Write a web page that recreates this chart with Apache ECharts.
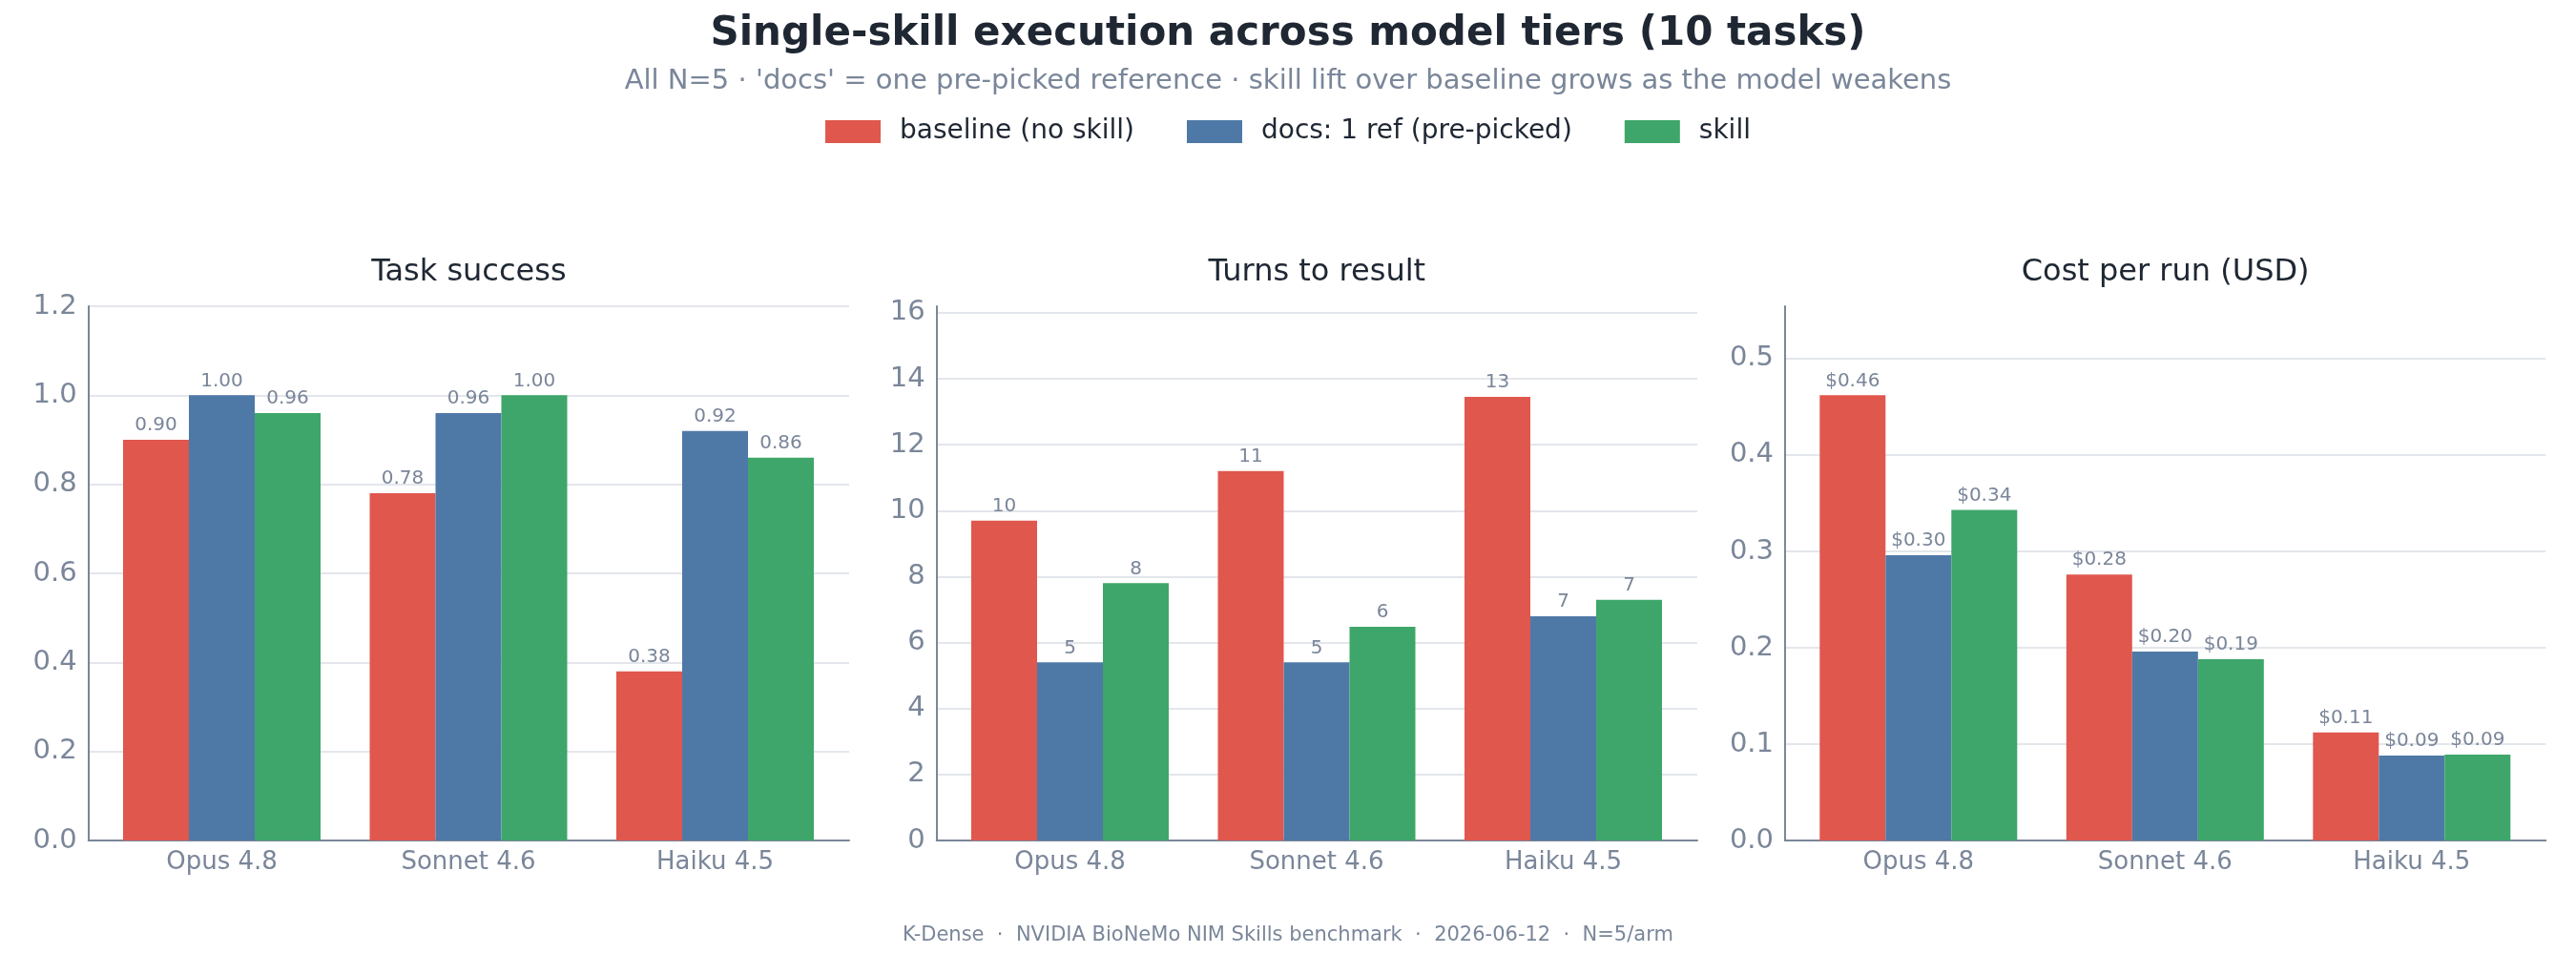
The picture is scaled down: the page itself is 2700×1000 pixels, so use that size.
<!DOCTYPE html>
<html>
<head>
<meta charset="utf-8">
<script src="https://cdn.jsdelivr.net/npm/echarts@6/dist/echarts.min.js"></script>
<style>
  html, body { margin: 0; padding: 0; background: #ffffff; }
  #chart { width: 2700px; height: 1000px; }
</style>
</head>
<body>
<div id="chart"></div>
<script>
// data
var categories = ['Opus 4.8', 'Sonnet 4.6', 'Haiku 4.5'];
var seriesNames = ['baseline (no skill)', 'docs: 1 ref (pre-picked)', 'skill'];

var successBaseline = [0.90, 0.78, 0.38];
var successDocs     = [1.00, 0.96, 0.92];
var successSkill    = [0.96, 1.00, 0.86];

var turnsBaseline = [9.7, 11.2, 13.45];
var turnsDocs     = [5.4, 5.4, 6.8];
var turnsSkill    = [7.8, 6.48, 7.3];

var costBaseline = [0.462, 0.276, 0.112];
var costDocs     = [0.296, 0.196, 0.088];
var costSkill    = [0.343, 0.188, 0.089];

var panelTitles = ['Task success', 'Turns to result', 'Cost per run (USD)'];
// y axis: max, tick step
var axisMax  = [1.2, 16.2, 0.5544];
var axisStep = [0.2, 2, 0.1];

var colors = ['#e0574d', '#4e79a7', '#3ea66a'];
var grayText = '#7a8699';
var darkText = '#1f2733';
var font = 'DejaVu Sans';

var chart = echarts.init(document.getElementById('chart'));

// layout of the three panels (px)
var axisLeft = [92.7, 981.7, 1871];
var plotW = 797.3, plotTop = 321, plotH = 560;
var bandW = 258.5, sideGap = 139.8 - bandW / 2;

var panelData = [
    [successBaseline, successDocs, successSkill],
    [turnsBaseline, turnsDocs, turnsSkill],
    [costBaseline, costDocs, costSkill]
];
var labelFmt = [
    function (p) { return p.value.toFixed(2); },
    function (p) { return String(Math.round(p.value)); },
    function (p) { return '$' + p.value.toFixed(2); }
];
var tickFmt = [
    function (v) { return v.toFixed(1); },
    function (v) { return String(v); },
    function (v) { return v.toFixed(1); }
];

var grids = [], xAxes = [], yAxes = [], series = [];
var titles = [
    { text: 'Single-skill execution across model tiers (10 tasks)', left: 'center', top: 10,
      textStyle: { fontFamily: font, fontSize: 42, fontWeight: 'bold', color: darkText } },
    { text: "All N=5 · 'docs' = one pre-picked reference · skill lift over baseline grows as the model weakens",
      left: 'center', top: 66,
      textStyle: { fontFamily: font, fontSize: 29, fontWeight: 'normal', color: grayText } },
    { text: 'K-Dense  ·  NVIDIA BioNeMo NIM Skills benchmark  ·  2026-06-12  ·  N=5/arm',
      left: 'center', top: 965,
      textStyle: { fontFamily: font, fontSize: 21, fontWeight: 'normal', color: grayText } }
];

for (var k = 0; k < 3; k++) {
    var outer = 2 * k, inner = 2 * k + 1;
    // outer grid: axis lines, grid lines, y labels
    grids.push({ left: axisLeft[k], top: plotTop, width: plotW, height: plotH });
    // inner grid: the category band, holds the bars
    grids.push({ left: axisLeft[k] + sideGap, top: plotTop, width: bandW * 3, height: plotH });

    xAxes.push({
        type: 'value', gridIndex: outer, min: 0, max: 1,
        axisLine: { show: true, lineStyle: { color: grayText, width: 2 } },
        axisTick: { show: false }, axisLabel: { show: false }, splitLine: { show: false }
    });
    xAxes.push({
        type: 'category', gridIndex: inner, data: categories,
        axisLine: { show: false }, axisTick: { show: false },
        axisLabel: { color: grayText, fontFamily: font, fontSize: 26, margin: 10 }
    });

    yAxes.push({
        type: 'value', gridIndex: outer, min: 0, max: axisMax[k], interval: axisStep[k],
        axisLine: { show: true, lineStyle: { color: grayText, width: 2 } },
        axisTick: { show: false },
        axisLabel: { color: grayText, fontFamily: font, fontSize: 29, margin: 12,
                     showMaxLabel: k === 0, formatter: tickFmt[k] },
        splitLine: { show: true, showMaxLine: k === 0, lineStyle: { color: '#e3e6eb', width: 2 } }
    });
    yAxes.push({ type: 'value', gridIndex: inner, min: 0, max: axisMax[k], show: false, splitLine: { show: false } });

    titles.push({
        text: panelTitles[k], left: axisLeft[k] + plotW / 2, top: 270, textAlign: 'center', padding: 0,
        textStyle: { fontFamily: font, fontSize: 32, fontWeight: 'normal', color: darkText }
    });

    for (var s = 0; s < 3; s++) {
        series.push({
            name: seriesNames[s], type: 'bar',
            xAxisIndex: inner, yAxisIndex: inner,
            data: panelData[k][s],
            barWidth: 69, barGap: '0%',
            itemStyle: { color: colors[s] },
            label: { show: true, position: 'top', distance: 5, color: grayText,
                     fontFamily: font, fontSize: 20, formatter: labelFmt[k] },
            emphasis: { disabled: true }
        });
    }
}

var option = {
    animation: false,
    backgroundColor: '#ffffff',
    title: titles,
    legend: {
        data: seriesNames, top: 119, left: 'center',
        icon: 'rect', itemWidth: 58, itemHeight: 24, itemGap: 55,
        textStyle: { fontFamily: font, fontSize: 28, color: darkText, padding: [0, 0, 0, 15] }
    },
    grid: grids,
    xAxis: xAxes,
    yAxis: yAxes,
    series: series
};
chart.setOption(option);
</script>
</body>
</html>
